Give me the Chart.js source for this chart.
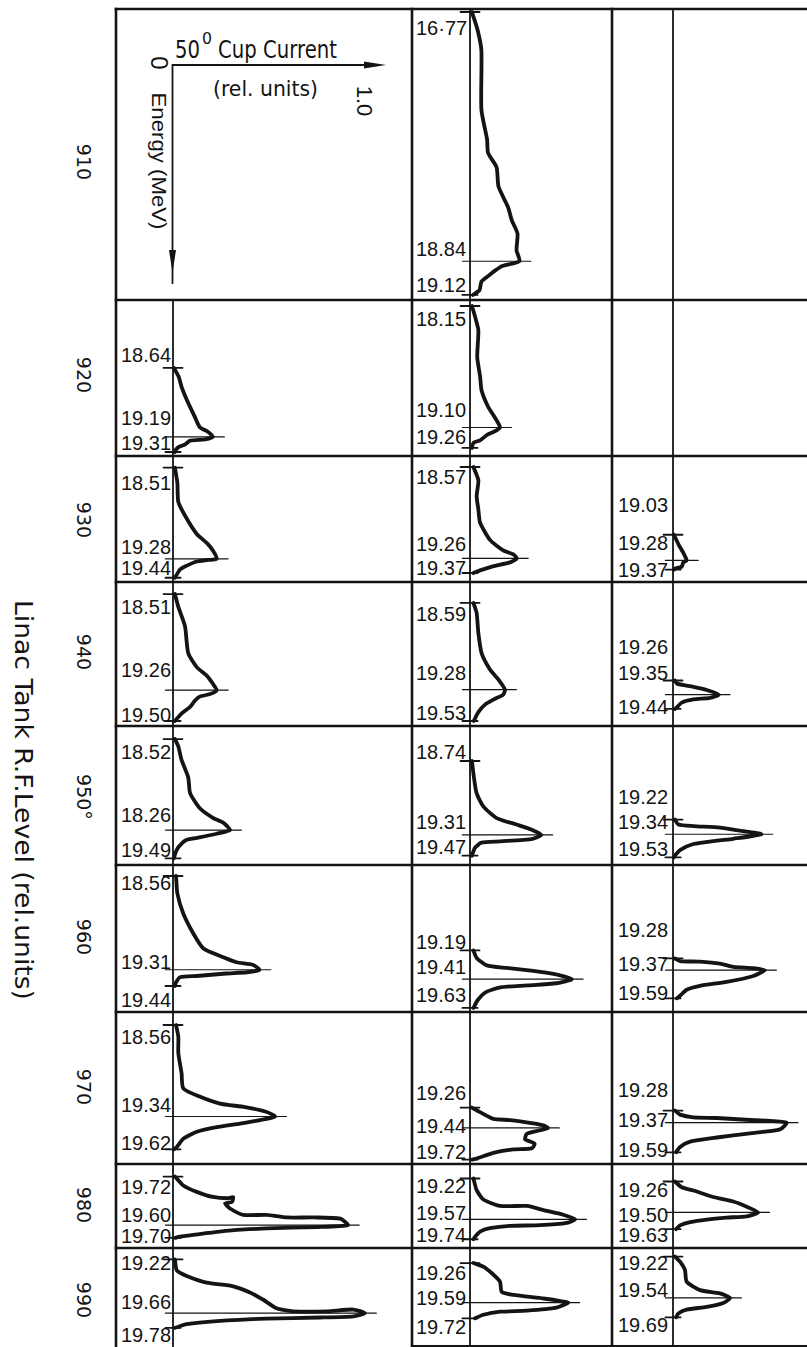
<!DOCTYPE html>
<html>
<head>
<meta charset="utf-8">
<title>50° cup current vs energy, by RF level</title>
<script src="https://cdn.jsdelivr.net/npm/chart.js@4.4.1/dist/chart.umd.min.js"></script>
<style>
  html, body { margin: 0; padding: 0; background: #fff; }
  #sheet { position: relative; width: 807px; height: 1347px; overflow: hidden; background: #fff; }
  #frame { position: absolute; left: 0; top: 0; }
  .panel { position: absolute; }
</style>
</head>
<body>
<div id="sheet">
  <svg id="frame" width="807" height="1347" xmlns="http://www.w3.org/2000/svg"></svg>
</div>
<script>
// Linac tank RF level (rel. units), one row each
const rfLevels = ['910', '920', '930', '940', '950°', '960', '970', '980', '990'];

// start / peak / end energy (MeV) of each trace, per column, indexed by row
const startA = [null, 18.64, 18.51, 18.51, 18.52, 18.56, 18.56, 19.22, 19.22];
const peakA  = [null, 19.19, 19.28, 19.26, 19.26, 19.31, 19.34, 19.60, 19.66];
const endA   = [null, 19.31, 19.44, 19.50, 19.49, 19.44, 19.62, 19.70, 19.78];
const startB = [16.77, 18.15, 18.57, 18.59, 18.74, 19.19, 19.26, 19.22, 19.26];
const peakB  = [18.84, 19.10, 19.26, 19.28, 19.31, 19.41, 19.44, 19.57, 19.59];
const endB   = [19.12, 19.26, 19.37, 19.53, 19.47, 19.63, 19.72, 19.74, 19.72];
const startC = [null, null, 19.03, 19.26, 19.22, 19.28, 19.28, 19.26, 19.22];
const peakC  = [null, null, 19.28, 19.35, 19.34, 19.37, 19.37, 19.50, 19.54];
const endC   = [null, null, 19.37, 19.44, 19.53, 19.59, 19.59, 19.63, 19.69];

// energy shown from top to bottom of each cell (MeV)
const rangeA = [null, [18.098, 19.342], [18.412, 19.476], [18.416, 19.539], [18.414, 19.544],
  [18.472, 19.648], [18.449, 19.745], [19.122, 19.779], [19.127, 19.928]];
const rangeB = [[16.745, 19.162], [18.103, 19.323], [18.487, 19.438], [18.423, 19.570], [18.470, 19.542],
  [18.536, 19.661], [18.414, 19.759], [19.096, 19.815], [19.135, 19.950]];
const rangeC = [null, null, [18.263, 19.490], [18.637, 19.548], [18.453, 19.592],
  [18.554, 19.696], [18.547, 19.677], [19.124, 19.776], [19.154, 19.912]];

// labels as lettered on the sheet where they differ from the value
const printedAs = { 'B0-0': '16·77', 'A4-1': '18.26', 'A7-0': '19.72' };

// cup current (rel. units) vs energy (MeV)
const trace920a = [[0.005, 18.64], [0.03, 18.71], [0.045, 18.79], [0.08, 18.92], [0.115, 19.03], [0.14, 19.11],
  [0.185, 19.15], [0.21, 19.19], [0.17, 19.21], [0.09, 19.22], [0.063, 19.25], [0.03, 19.27], [0.016, 19.29], [0.01, 19.31]];
const trace930a = [[0.01, 18.51], [0.023, 18.64], [0.028, 18.80], [0.072, 18.94], [0.125, 19.07], [0.18, 19.15],
  [0.21, 19.21], [0.23, 19.28], [0.185, 19.29], [0.12, 19.305], [0.07, 19.34], [0.037, 19.37], [0.01, 19.44]];
const trace940a = [[0.01, 18.51], [0.028, 18.61], [0.063, 18.76], [0.08, 18.97], [0.125, 19.08], [0.18, 19.15],
  [0.21, 19.21], [0.23, 19.26], [0.195, 19.29], [0.14, 19.31], [0.116, 19.34], [0.09, 19.39], [0.046, 19.44], [0.01, 19.50]];
const trace950a = [[0.01, 18.52], [0.028, 18.58], [0.045, 18.69], [0.08, 18.83], [0.09, 18.96], [0.14, 19.08],
  [0.21, 19.16], [0.265, 19.20], [0.30, 19.26], [0.23, 19.29], [0.14, 19.32], [0.07, 19.34], [0.028, 19.40],
  [0.012, 19.45], [0.005, 19.49]];
const trace960a = [[0.016, 18.56], [0.023, 18.70], [0.054, 18.86], [0.107, 19.02], [0.16, 19.14], [0.265, 19.21],
  [0.335, 19.25], [0.42, 19.27], [0.455, 19.31], [0.39, 19.33], [0.28, 19.34], [0.125, 19.36], [0.037, 19.37],
  [0.016, 19.41], [0.01, 19.44]];
const trace970a = [[0.016, 18.56], [0.028, 18.66], [0.028, 18.80], [0.045, 18.97], [0.054, 19.10], [0.14, 19.17],
  [0.247, 19.23], [0.38, 19.26], [0.49, 19.30], [0.537, 19.34], [0.458, 19.37], [0.353, 19.40], [0.23, 19.43],
  [0.125, 19.47], [0.054, 19.53], [0.02, 19.60], [0.005, 19.62]];
const trace980a = [[0.01, 19.22], [0.054, 19.29], [0.125, 19.34], [0.21, 19.38], [0.29, 19.39], [0.317, 19.38],
  [0.31, 19.42], [0.274, 19.43], [0.30, 19.47], [0.37, 19.52], [0.493, 19.52], [0.60, 19.54], [0.74, 19.54],
  [0.88, 19.55], [0.92, 19.60], [0.756, 19.615], [0.493, 19.625], [0.32, 19.64], [0.14, 19.67], [0.037, 19.69], [0.01, 19.70]];
const trace990a = [[0.01, 19.22], [0.02, 19.31], [0.072, 19.355], [0.177, 19.41], [0.317, 19.44], [0.405, 19.49],
  [0.475, 19.55], [0.545, 19.62], [0.632, 19.645], [0.81, 19.645], [0.95, 19.63], [1.01, 19.66], [0.95, 19.685],
  [0.77, 19.695], [0.49, 19.705], [0.23, 19.725], [0.072, 19.75], [0.01, 19.78]];

const trace910b = [[0.01, 16.77], [0.04, 16.92], [0.06, 17.09], [0.06, 17.58], [0.09, 17.83], [0.095, 17.94],
  [0.14, 18.06], [0.15, 18.22], [0.20, 18.39], [0.22, 18.50], [0.25, 18.61], [0.245, 18.75], [0.26, 18.84],
  [0.17, 18.88], [0.13, 18.92], [0.09, 18.97], [0.06, 19.01], [0.05, 19.08], [0.015, 19.12]];
const trace920b = [[0.01, 18.15], [0.026, 18.23], [0.044, 18.34], [0.038, 18.55], [0.053, 18.70], [0.061, 18.81],
  [0.096, 18.94], [0.13, 19.02], [0.158, 19.10], [0.13, 19.13], [0.088, 19.16], [0.053, 19.20], [0.018, 19.22], [0.01, 19.26]];
const trace930b = [[0.018, 18.57], [0.044, 18.67], [0.035, 18.79], [0.044, 18.89], [0.053, 18.99], [0.105, 19.12],
  [0.175, 19.20], [0.228, 19.23], [0.246, 19.26], [0.21, 19.29], [0.12, 19.32], [0.053, 19.35], [0.018, 19.37]];
const trace940b = [[0.018, 18.59], [0.035, 18.67], [0.044, 18.83], [0.061, 18.99], [0.105, 19.12], [0.15, 19.20],
  [0.184, 19.28], [0.175, 19.32], [0.123, 19.36], [0.079, 19.40], [0.044, 19.46], [0.02, 19.53]];
const trace950b = [[0.01, 18.74], [0.02, 18.86], [0.035, 18.99], [0.07, 19.09], [0.14, 19.18], [0.245, 19.23],
  [0.325, 19.27], [0.375, 19.31], [0.33, 19.34], [0.16, 19.36], [0.06, 19.37], [0.026, 19.41], [0.01, 19.47]];
const trace960b = [[0.018, 19.19], [0.035, 19.247], [0.088, 19.304], [0.193, 19.324], [0.333, 19.347], [0.44, 19.37],
  [0.535, 19.41], [0.455, 19.441], [0.30, 19.458], [0.16, 19.472], [0.08, 19.512], [0.04, 19.571], [0.018, 19.63]];
const trace970b = [[0.01, 19.26], [0.053, 19.30], [0.123, 19.36], [0.21, 19.37], [0.333, 19.40], [0.39, 19.42],
  [0.41, 19.44], [0.37, 19.46], [0.30, 19.49], [0.29, 19.54], [0.34, 19.58], [0.325, 19.62], [0.228, 19.63],
  [0.123, 19.66], [0.035, 19.71], [0.01, 19.72]];
const trace980b = [[0.018, 19.22], [0.035, 19.32], [0.07, 19.40], [0.158, 19.455], [0.30, 19.455], [0.386, 19.49],
  [0.49, 19.53], [0.553, 19.57], [0.51, 19.60], [0.37, 19.62], [0.21, 19.625], [0.105, 19.645], [0.053, 19.675],
  [0.026, 19.72], [0.018, 19.74]];
const trace990b = [[0.018, 19.26], [0.07, 19.29], [0.115, 19.345], [0.158, 19.415], [0.167, 19.50], [0.228, 19.525],
  [0.386, 19.555], [0.49, 19.58], [0.517, 19.59], [0.456, 19.63], [0.30, 19.655], [0.158, 19.665], [0.07, 19.69], [0.026, 19.72]];

const trace930c = [[0.005, 19.03], [0.028, 19.12], [0.054, 19.205], [0.072, 19.28], [0.054, 19.30], [0.046, 19.34],
  [0.01, 19.36], [0.005, 19.37]];
const trace940c = [[0.01, 19.26], [0.02, 19.28], [0.107, 19.30], [0.177, 19.32], [0.24, 19.35], [0.195, 19.37],
  [0.107, 19.38], [0.046, 19.40], [0.02, 19.43], [0.01, 19.44]];
const trace950c = [[0.01, 19.22], [0.028, 19.26], [0.107, 19.273], [0.247, 19.285], [0.35, 19.31], [0.465, 19.34],
  [0.317, 19.377], [0.23, 19.392], [0.107, 19.42], [0.037, 19.47], [0.01, 19.515], [0.005, 19.53]];
const trace960c = [[0.01, 19.28], [0.037, 19.30], [0.142, 19.305], [0.247, 19.32], [0.317, 19.345], [0.423, 19.355],
  [0.484, 19.37], [0.423, 19.416], [0.282, 19.462], [0.142, 19.493], [0.072, 19.523], [0.037, 19.57], [0.02, 19.59]];
const trace970c = [[0.01, 19.28], [0.037, 19.31], [0.107, 19.33], [0.23, 19.335], [0.405, 19.35], [0.493, 19.355],
  [0.598, 19.37], [0.563, 19.42], [0.405, 19.45], [0.23, 19.48], [0.09, 19.51], [0.037, 19.55], [0.016, 19.59]];
const trace980c = [[0.01, 19.26], [0.046, 19.305], [0.107, 19.33], [0.212, 19.38], [0.317, 19.415], [0.388, 19.455],
  [0.448, 19.50], [0.388, 19.53], [0.283, 19.54], [0.177, 19.555], [0.09, 19.575], [0.037, 19.60], [0.016, 19.63]];
const trace990c = [[0.01, 19.22], [0.037, 19.26], [0.063, 19.325], [0.072, 19.415], [0.142, 19.48], [0.247, 19.505],
  [0.30, 19.54], [0.265, 19.58], [0.177, 19.61], [0.072, 19.63], [0.028, 19.66], [0.016, 19.69]];

// sheet layout (px)
const ROW_EDGES = [9, 300, 456, 582, 726, 865, 1012, 1164, 1248, 1346];
const COL_EDGES = [116, 412, 612, 807];
const AXIS_X = [173, 470, 673];
const PX_PER_UNIT = 190;
const LABEL_X = [121, 416, 618];
const LEVEL_Y = [162, 375, 520, 652, 797, 937, 1087, 1205, 1300];
const LABEL_Y = [
  [null, [355, 418, 443], [483, 547, 568], [607, 670, 715], [752, 815, 850], [883, 962, 1000],
    [1037, 1105, 1143], [1187, 1215, 1236], [1263, 1302, 1335]],
  [[28, 249, 285], [319, 410, 437], [477, 544, 568], [614, 673, 713], [752, 822, 847], [942, 967, 995],
    [1093, 1126, 1152], [1186, 1213, 1235], [1273, 1298, 1327]],
  [null, null, [505, 543, 570], [647, 673, 707], [797, 822, 849], [930, 964, 993], [1090, 1120, 1150],
    [1190, 1215, 1235], [1263, 1290, 1325]],
];

const INK = '#141414';
const FONT = "'Liberation Sans', Arial, sans-serif";
const NARROW = "'DejaVu Sans', sans-serif";

const columns = [
  { key: 'A', start: startA, peak: peakA, end: endA, range: rangeA,
    traces: [null, trace920a, trace930a, trace940a, trace950a, trace960a, trace970a, trace980a, trace990a] },
  { key: 'B', start: startB, peak: peakB, end: endB, range: rangeB,
    traces: [trace910b, trace920b, trace930b, trace940b, trace950b, trace960b, trace970b, trace980b, trace990b] },
  { key: 'C', start: startC, peak: peakC, end: endC, range: rangeC,
    traces: [null, null, trace930c, trace940c, trace950c, trace960c, trace970c, trace980c, trace990c] },
];

const sheet = document.getElementById('sheet');
const frame = document.getElementById('frame');
const SVG_NS = 'http://www.w3.org/2000/svg';

const svgEl = (tag, attrs, text) => {
  const el = document.createElementNS(SVG_NS, tag);
  Object.entries(attrs).forEach(([k, v]) => el.setAttribute(k, v));
  if (text !== undefined) el.textContent = text;
  frame.appendChild(el);
  return el;
};

const rule = (x1, y1, x2, y2, w) =>
  svgEl('line', { x1, y1, x2, y2, stroke: INK, 'stroke-width': w, 'stroke-linecap': 'square' });

// text helper; `fit` squeezes or stretches the run to a set length
const label = (x, y, text, opts = {}) => svgEl('text', {
  x, y,
  'font-family': opts.family || FONT,
  'font-size': opts.size || 20,
  'text-anchor': opts.anchor || 'start',
  'dominant-baseline': 'central',
  fill: INK,
  ...(opts.fit ? { textLength: opts.fit, lengthAdjust: 'spacingAndGlyphs' } : {}),
  ...(opts.rotate ? { transform: `rotate(${opts.rotate} ${x} ${y})` } : {}),
}, text);

const drawFrame = () => {
  const right = COL_EDGES[3];
  const bottom = 1347;
  ROW_EDGES.slice(0, -1).forEach((y) => rule(COL_EDGES[0], y, right, y, 2.6));
  rule(COL_EDGES[1], 1346, right, 1346, 2.2);
  COL_EDGES.slice(0, 3).forEach((x) => rule(x, ROW_EDGES[0], x, bottom, 2.6));
  rule(AXIS_X[1], ROW_EDGES[0], AXIS_X[1], bottom, 1.8);
  rule(AXIS_X[2], ROW_EDGES[0], AXIS_X[2], bottom, 1.8);
  rule(AXIS_X[0], ROW_EDGES[1], AXIS_X[0], bottom, 1.8);

  // key in the first cell: current across, energy down
  rule(AXIS_X[0], 65, 372, 65, 1.8);
  svgEl('polygon', { points: '364,61.5 386,65 364,68.5', fill: INK });
  rule(172.5, 65, 172.5, 283, 1.8);
  svgEl('polygon', { points: '169,250 172.5,273 176,250', fill: INK });
  label(175, 50, '50', { family: NARROW, size: 24, fit: 25 });
  label(202, 39, '0', { family: NARROW, size: 15, fit: 10 });
  label(218, 50, 'Cup Current', { family: NARROW, size: 24, fit: 119 });
  label(213, 88, '(rel. units)', { family: NARROW, size: 22, fit: 105 });
  label(364, 101, '1.0', { size: 22, anchor: 'middle', rotate: 90 });
  label(159, 63, '0', { size: 24, anchor: 'middle', rotate: 90 });
  label(159, 161, 'Energy (MeV)', { size: 21, anchor: 'middle', rotate: 90, fit: 137 });

  rfLevels.forEach((lvl, i) => label(84, LEVEL_Y[i], lvl, { family: "'DejaVu Sans', sans-serif", size: 19, anchor: 'middle', rotate: 90 }));
  label(23, 800, 'Linac Tank  R.F.Level   (rel.units)', { family: NARROW, size: 24, anchor: 'middle', rotate: 90, fit: 400 });
};

const makePanel = (colIndex, row) => {
  const col = columns[colIndex];
  const trace = col.traces[row];
  if (!trace) return;

  const left = COL_EDGES[colIndex];
  const right = COL_EDGES[colIndex + 1];
  const top = ROW_EDGES[row];
  const bottom = ROW_EDGES[row + 1];
  const marks = [col.start[row], col.peak[row], col.end[row]];

  marks.forEach((value, i) => {
    const text = printedAs[`${col.key}${row}-${i}`] || value.toFixed(2);
    label(LABEL_X[colIndex], LABEL_Y[colIndex][row][i], text);
  });

  const canvas = document.createElement('canvas');
  canvas.className = 'panel';
  canvas.width = right - left;
  canvas.height = bottom - top;
  canvas.style.left = `${left}px`;
  canvas.style.top = `${top}px`;
  sheet.appendChild(canvas);

  const peakCurrent = Math.max(...trace.map((p) => p[0]));
  const seg = (x0, x1, y) => [{ x: x0, y }, { x: x1, y }];
  const lineSet = (data, width, tension = 0) => ({
    data,
    showLine: true,
    borderColor: INK,
    borderWidth: width,
    borderCapStyle: 'round',
    borderJoinStyle: 'round',
    tension,
    pointRadius: 0,
  });

  new Chart(canvas, {
    type: 'scatter',
    data: {
      datasets: [
        lineSet(trace.map(([x, y]) => ({ x, y })), 3.8, 0.2),
        lineSet(seg(-0.05, 0.05, marks[0]), 1.8),
        lineSet(seg(-0.04, peakCurrent + 0.06, marks[1]), 1.2),
        lineSet(seg(-0.04, 0.04, marks[2]), 1.8),
      ],
    },
    options: {
      responsive: false,
      animation: false,
      events: [],
      layout: { padding: 0, autoPadding: false },
      plugins: { legend: { display: false }, tooltip: { enabled: false } },
      scales: {
        x: {
          type: 'linear',
          display: false,
          min: (left - AXIS_X[colIndex]) / PX_PER_UNIT,
          max: (right - AXIS_X[colIndex]) / PX_PER_UNIT,
        },
        y: {
          type: 'linear',
          display: false,
          reverse: true,
          min: col.range[row][0],
          max: col.range[row][1],
        },
      },
    },
  });
};

drawFrame();
columns.forEach((col, c) => rfLevels.forEach((lvl, r) => makePanel(c, r)));
</script>
</body>
</html>
